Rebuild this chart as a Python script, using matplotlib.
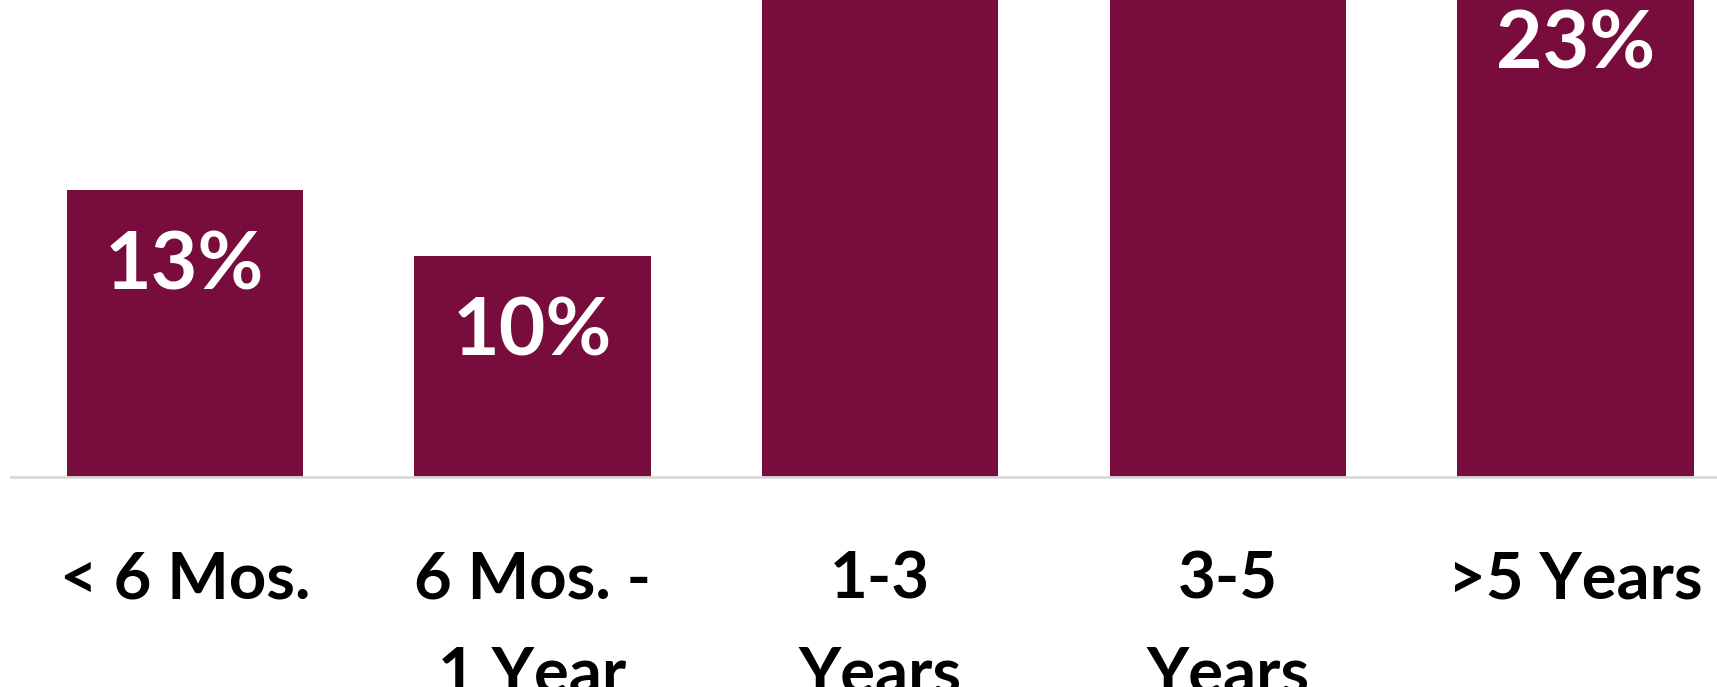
import matplotlib.pyplot as plt

# -----------------------------
# Input data
# -----------------------------
categories = ["< 6 Mos.", "6 Mos. -\n1 Year", "1-3\nYears", "3-5\nYears", ">5 Years"]
shares = [13, 10, 27, 27, 23]

bar_color = "#770C3D"
plt.rcParams["font.family"] = ["Lato", "DejaVu Sans"]

fig = plt.figure(figsize=(17.17, 6.87), dpi=100)
# chart is cropped in the reference: axes runs past the figure edges
ax = fig.add_axes([11 / 1717, 210 / 687, 5 * 347.7 / 1717, 30 * 22.1 / 687])

x = list(range(len(categories)))
bars = ax.bar(x, shares, width=0.68, color=bar_color, zorder=2)

ax.set_xlim(-0.5, 4.5)
ax.set_ylim(0, 30)

for bar, v in zip(bars, shares):
    ax.annotate(
        f"{v}%",
        (bar.get_x() + bar.get_width() / 2, bar.get_height()),
        xytext=(0, -40),
        textcoords="offset pixels",
        ha="center",
        va="top",
        fontsize=58,
        fontweight="bold",
        color="white",
        annotation_clip=False,
    )

ax.set_xticks(x)
ax.set_xticklabels(categories, fontsize=47, fontweight="bold", linespacing=1.75)
ax.tick_params(axis="x", length=0, pad=53)
ax.set_yticks([])

for side in ["top", "right", "left"]:
    ax.spines[side].set_visible(False)
ax.spines["bottom"].set_color("#D9D9D9")
ax.spines["bottom"].set_linewidth(2)

fig.savefig("out.png", dpi=100)
